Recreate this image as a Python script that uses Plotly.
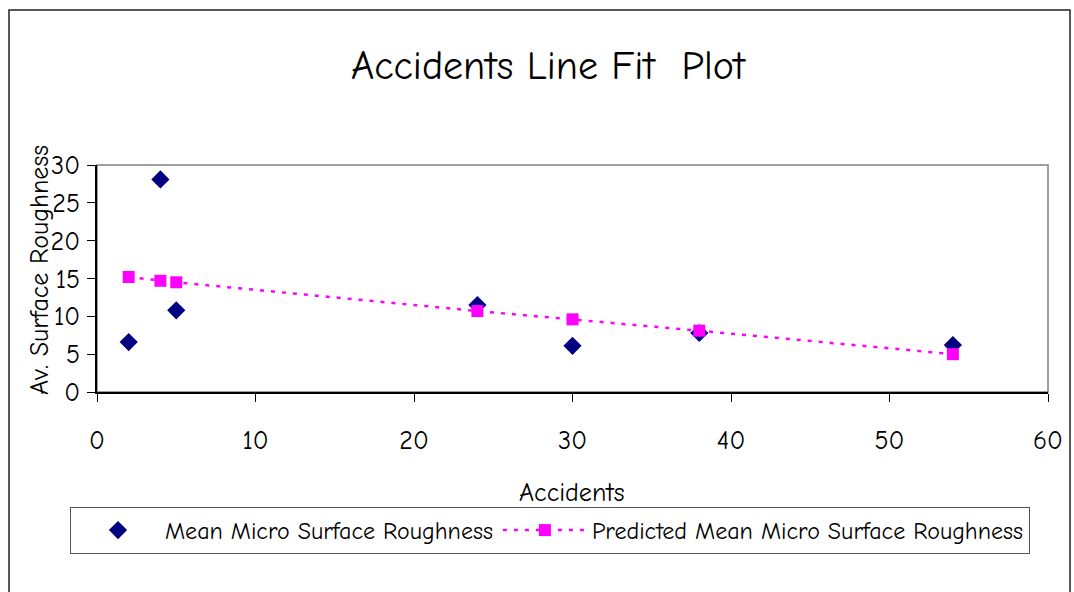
import plotly.graph_objects as go

accidents = [2, 4, 5, 24, 30, 38, 54]
mean_roughness = [6.6, 28.1, 10.8, 11.5, 6.1, 7.8, 6.2]
predicted_roughness = [15.2, 14.7, 14.5, 10.7, 9.6, 8.1, 5.0]

FONT = "Comic Sans MS, Comic Neue, Noto Sans, DejaVu Sans, sans-serif"

fig = go.Figure()
fig.add_trace(go.Scatter(
    x=accidents, y=mean_roughness, mode="markers",
    name="Mean Micro Surface Roughness",
    marker=dict(symbol="diamond", size=14, color="#000080"),
))
fig.add_trace(go.Scatter(
    x=accidents, y=predicted_roughness, mode="lines+markers",
    name="Predicted Mean Micro Surface Roughness",
    line=dict(color="#FF00FF", width=2.5, dash="4px,7px"),
    marker=dict(symbol="square", size=12, color="#FF00FF"),
))

# plot area geometry (pixels): x 97..1048, y 165..392
W, H = 1074, 592
L, R, T, B = 97, 1048, 165, 392
pw, ph = R - L, B - T

def px(x):
    return (x - L) / pw

def py(y):
    return (B - y) / ph

fig.update_layout(
    width=W, height=H,
    margin=dict(l=L, r=W - R, t=T, b=H - B),
    paper_bgcolor="white", plot_bgcolor="white",
    font=dict(family=FONT, size=26, color="black"),
    showlegend=True,
    title=dict(text="Accidents Line Fit\u00a0\u00a0Plot", x=548 / W, xanchor="center",
               y=1 - 65 / H, yanchor="middle", font=dict(size=40, family=FONT)),
    xaxis=dict(range=[0, 60], dtick=10, showgrid=False, zeroline=False,
               showline=True, linecolor="black", linewidth=1.5,
               ticks="outside", ticklen=8, tickcolor="black",
               ticklabelstandoff=16, tickfont=dict(size=26)),
    yaxis=dict(range=[0, 30], dtick=5, showgrid=False, zeroline=False,
               showline=True, linecolor="black", linewidth=1.5,
               ticks="outside", ticklen=8, tickcolor="black",
               ticklabelstandoff=2, tickfont=dict(size=26)),
    legend=dict(orientation="h", x=px(70), xanchor="left", y=py(507), yanchor="top",
                bordercolor="#555555", borderwidth=1, bgcolor="white",
                font=dict(size=24), itemwidth=84),
    shapes=[
        dict(type="rect", xref="paper", yref="paper", x0=0, x1=1, y0=0, y1=1,
             line=dict(color="#808080", width=1.5), layer="below"),
        dict(type="rect", xref="paper", yref="paper", x0=px(9), x1=px(1070),
             y0=py(620), y1=py(10), line=dict(color="#222222", width=1.5), layer="below"),
    ],
    annotations=[
        dict(text="Av. Surface Roughness", textangle=-90, xref="paper", yref="paper",
             x=px(40), y=py(270), xanchor="center", yanchor="middle",
             showarrow=False, font=dict(size=26, family=FONT)),
        dict(text="Accidents", xref="paper", yref="paper",
             x=px(572), y=py(493), xanchor="center", yanchor="middle",
             showarrow=False, font=dict(size=26, family=FONT)),
    ],
)

fig.write_html("out.html")
